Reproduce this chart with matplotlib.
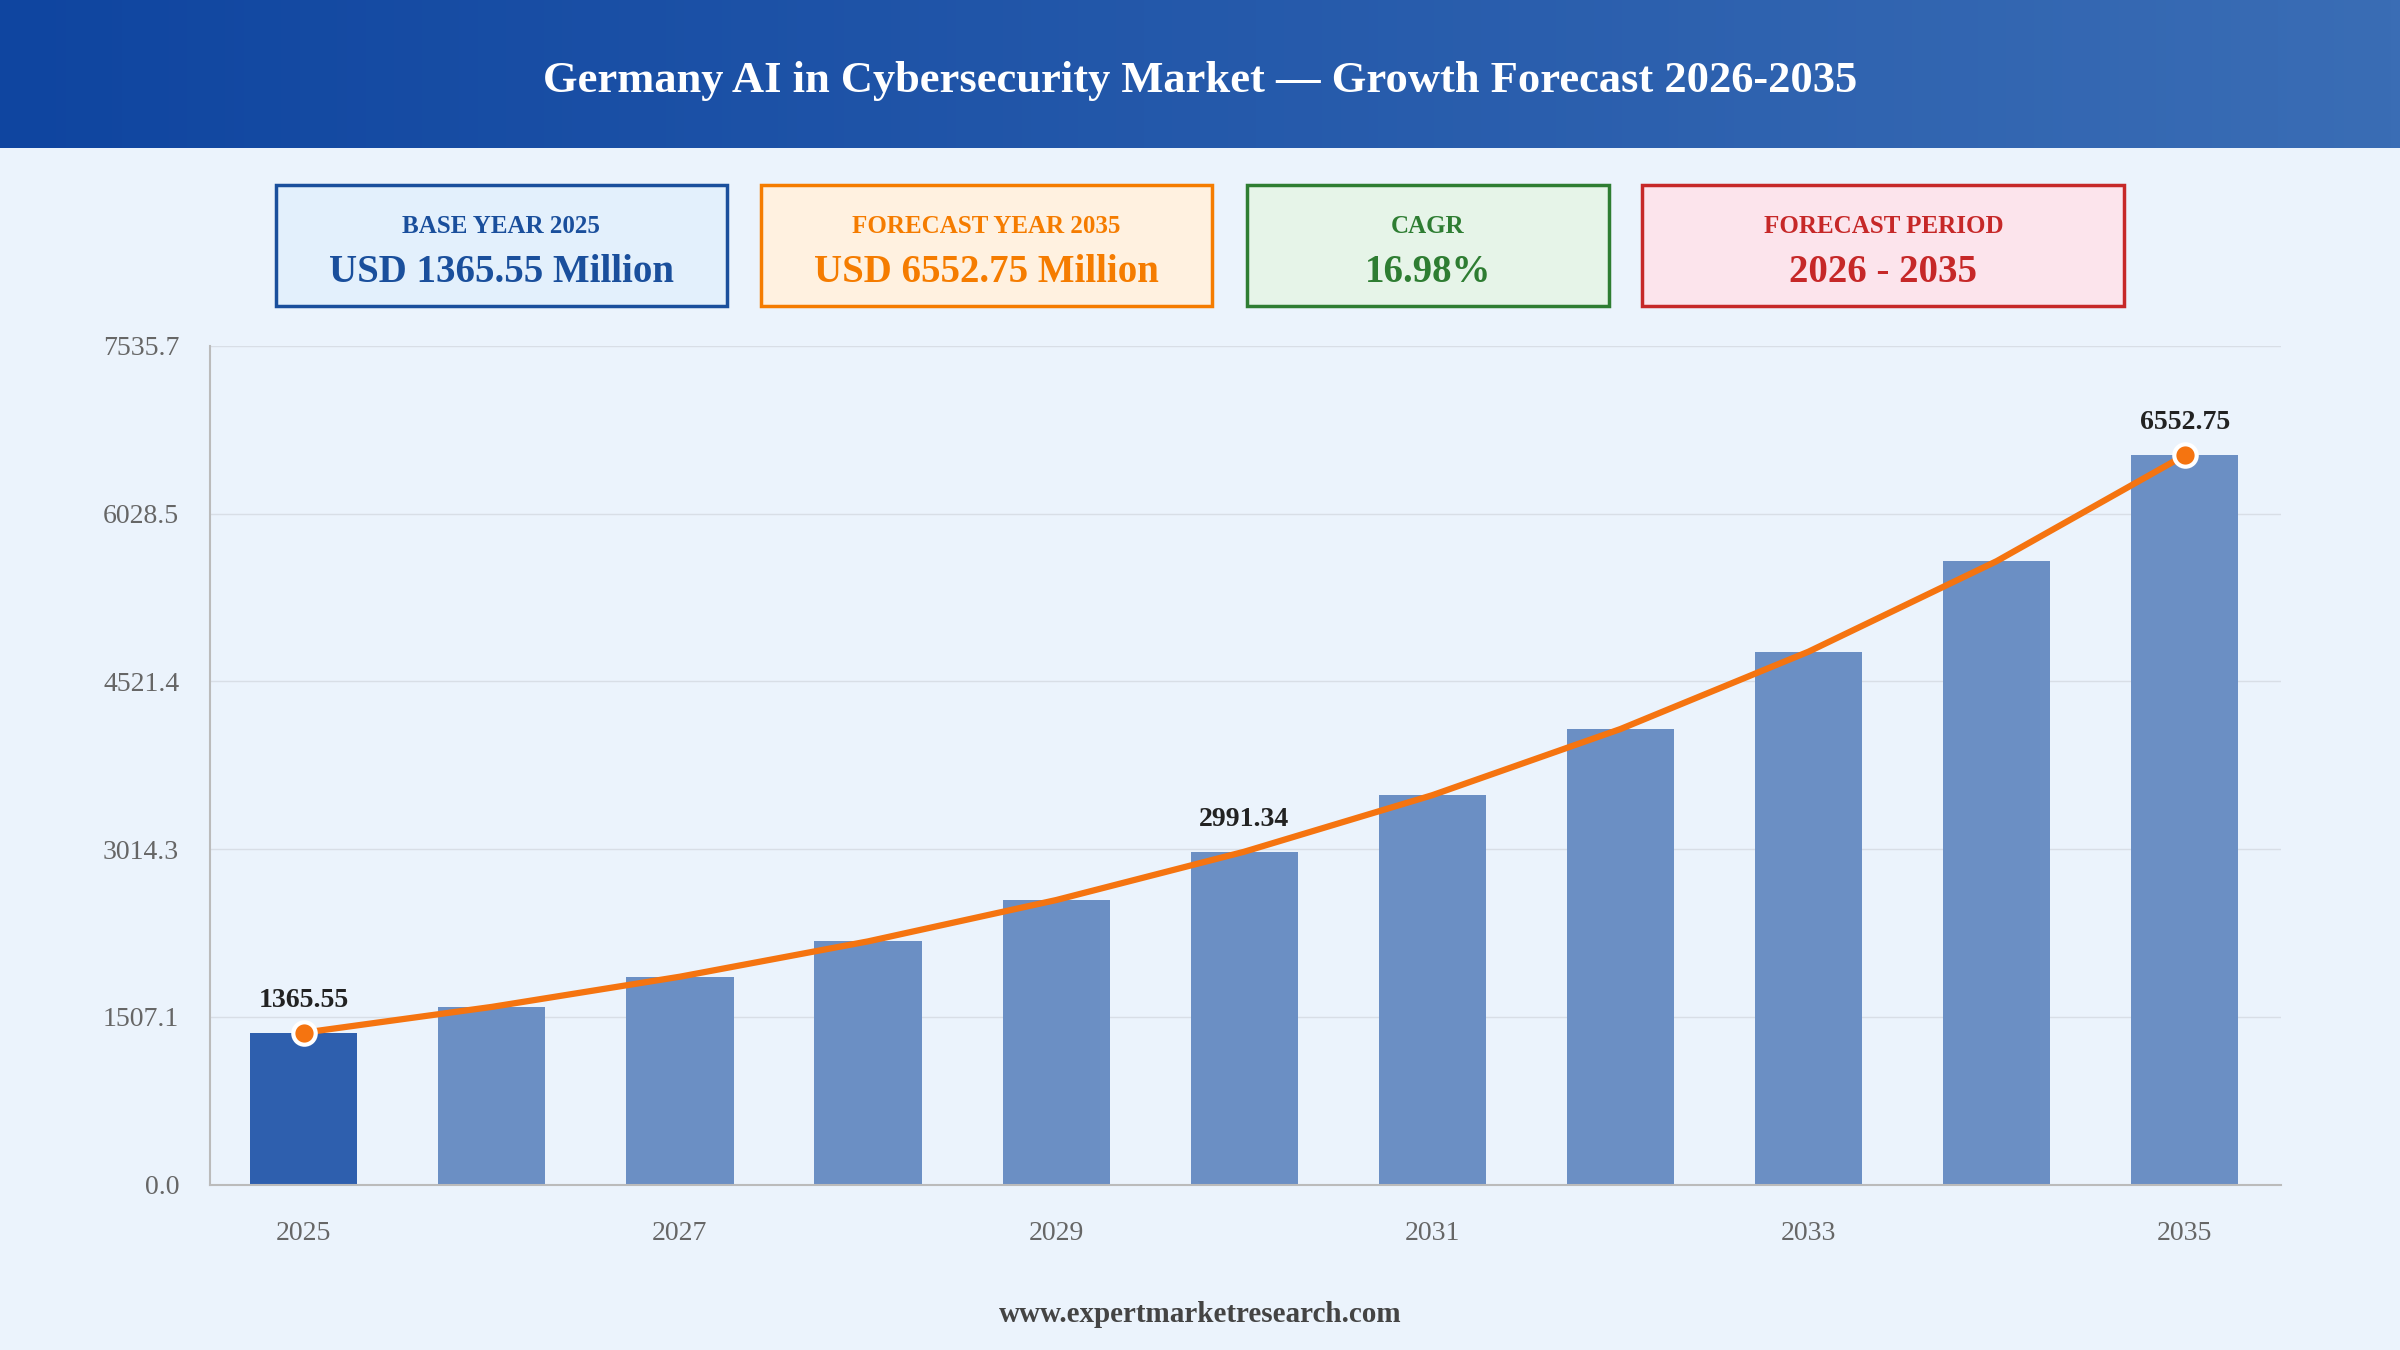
import numpy as np
import matplotlib.pyplot as plt
from matplotlib.patches import Rectangle
from matplotlib.colors import LinearSegmentedColormap

plt.rcParams['font.family'] = ['Liberation Serif', 'DejaVu Serif']

years = [2025, 2026, 2027, 2028, 2029, 2030, 2031, 2032, 2033, 2034, 2035]
values = [1365.55, 1597.4, 1868.7, 2186.0, 2557.2, 2991.34, 3499.3, 4093.5, 4788.6, 5601.7, 6552.75]
yticks = [0.0, 1507.1, 3014.3, 4521.4, 6028.5, 7535.7]
xtick_years = [2025, 2027, 2029, 2031, 2033, 2035]
labeled = [2025, 2030, 2035]

W, H = 1568, 882
bg = '#EBF3FC'
fig = plt.figure(figsize=(24, 13.5), dpi=100, facecolor=bg)

# header gradient
hax = fig.add_axes([0, 1 - 97 / H, 1, 97 / H])
grad = np.linspace(0, 1, 256).reshape(1, -1)
cm = LinearSegmentedColormap.from_list('h', ['#0F45A0', '#3A6DB5'])
hax.imshow(grad, aspect='auto', cmap=cm, extent=[0, 1, 0, 1])
hax.axis('off')
fig.text(0.5, 1 - 53 / H, 'Germany AI in Cybersecurity Market \u2014 Growth Forecast 2026-2035',
         color='white', fontsize=32, fontweight='bold', ha='center', va='center')

# info boxes
boxes = [
    (180, 475, 'BASE YEAR 2025', 'USD 1365.55 Million', '#1A4F9C', '#E3F0FC'),
    (497, 792, 'FORECAST YEAR 2035', 'USD 6552.75 Million', '#F57C00', '#FFF1E0'),
    (815, 1051, 'CAGR', '16.98%', '#2E7D32', '#E6F4E8'),
    (1073, 1388, 'FORECAST PERIOD', '2026 - 2035', '#C62828', '#FCE4EC'),
]
for x0, x1, t1, t2, ec, fc in boxes:
    fig.patches.append(Rectangle((x0 / W, 1 - 200 / H), (x1 - x0) / W, 79 / H,
                                 transform=fig.transFigure, facecolor=fc,
                                 edgecolor=ec, linewidth=2.5))
    cx = (x0 + x1) / 2 / W
    fig.text(cx, 1 - 148 / H, t1, color=ec, fontsize=18, fontweight='bold', ha='center', va='center')
    fig.text(cx, 1 - 178 / H, t2, color=ec, fontsize=28, fontweight='bold', ha='center', va='center')

ax = fig.add_axes([137 / W, 1 - 774 / H, (1490 - 137) / W, (774 - 226) / H])
ax.set_facecolor(bg)
colors = ['#2E5FAE'] + ['#6B8FC4'] * (len(years) - 1)
ax.bar(years, values, width=0.57, color=colors, zorder=2)
ax.plot(years, values, color='#F57410', linewidth=4.5, zorder=3)
ax.scatter([years[0], years[-1]], [values[0], values[-1]], s=260, color='#F57410',
           edgecolor='white', linewidth=3, zorder=4)
for y, v in zip(years, values):
    if y in labeled:
        ax.text(y, v + 180, f'{v:.2f}', ha='center', va='bottom', fontsize=20,
                fontweight='bold', color='#222222', zorder=5)

ax.set_xlim(2024.5, 2035.51)
ax.set_ylim(0, 7535.7)
ax.set_yticks(yticks)
ax.set_yticklabels([f'{t:.1f}' for t in yticks])
ax.set_xticks(xtick_years)
ax.tick_params(axis='both', length=0, labelsize=20, colors='#666666')
ax.tick_params(axis='x', pad=26)
ax.tick_params(axis='y', pad=22)
ax.grid(axis='y', color='#D8DEE6', linewidth=1, zorder=0)
for s in ['top', 'right']:
    ax.spines[s].set_visible(False)
for s in ['left', 'bottom']:
    ax.spines[s].set_color('#BBBBBB')
    ax.spines[s].set_linewidth(1.5)

fig.text(0.5, 1 - 859 / H, 'www.expertmarketresearch.com', ha='center', va='center',
         fontsize=21, fontweight='bold', color='#444444')

fig.savefig('out.png', dpi=100, facecolor=bg)
